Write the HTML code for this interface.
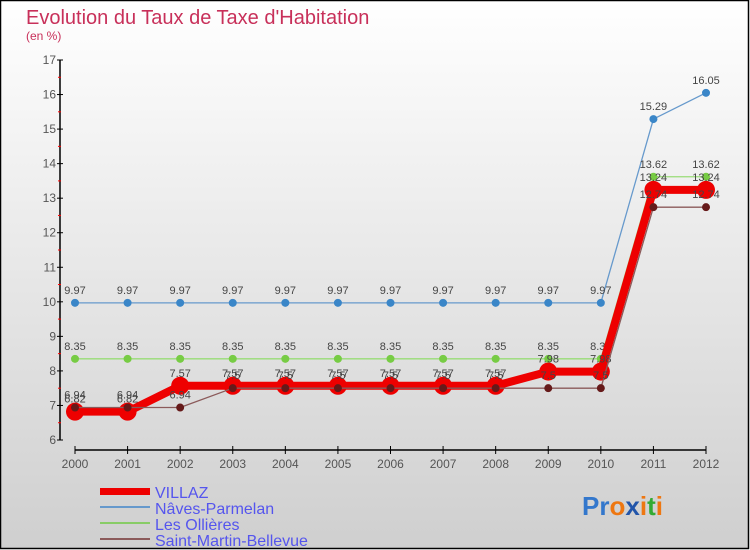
<!DOCTYPE html>
<html><head><meta charset="utf-8"><style>
body{margin:0}
svg{display:block;font-family:"Liberation Sans",sans-serif}
</style></head><body>
<svg id="c" width="750" height="550" viewBox="0 0 750 550">
<defs><linearGradient id="bg" x1="0" y1="0" x2="0" y2="1"><stop offset="0" stop-color="#ffffff"/><stop offset="1" stop-color="#cfcfcf"/></linearGradient></defs>
<rect x="0.5" y="0.5" width="748" height="548" fill="url(#bg)" stroke="#000" stroke-width="1.5"/>
<text x="26" y="24" font-size="20" fill="#c8305a">Evolution du Taux de Taxe d'Habitation</text>
<text x="26" y="40" font-size="12" fill="#c8305a">(en %)</text>
<g id="axes"></g>
<g id="series"></g>
<g id="legend">
<rect x="100" y="488" width="50" height="7" fill="#ee0000"/>
<text x="155" y="498" font-size="16" fill="#5555ee">VILLAZ</text>
<rect x="100" y="506" width="50" height="2" fill="#6699cc"/>
<text x="155" y="514" font-size="16" fill="#5555ee">Nâves-Parmelan</text>
<rect x="100" y="522" width="50" height="2" fill="#88cc66"/>
<text x="155" y="530" font-size="16" fill="#5555ee">Les Ollières</text>
<rect x="100" y="538" width="50" height="2" fill="#8b5a5a"/>
<text x="155" y="546" font-size="16" fill="#5555ee">Saint-Martin-Bellevue</text>
</g>
<text x="582" y="515" font-size="26" font-weight="bold"><tspan fill="#3377cc">Pr</tspan><tspan fill="#ee7711">o</tspan><tspan fill="#2255aa">x</tspan><tspan fill="#ee7711">i</tspan><tspan fill="#33aa33">t</tspan><tspan fill="#ee7711">i</tspan></text>
</svg>
<script>
const years=[2000,2001,2002,2003,2004,2005,2006,2007,2008,2009,2010,2011,2012];
const villaz=[6.82,6.82,7.57,7.57,7.57,7.57,7.57,7.57,7.57,7.98,7.98,13.24,13.24];
const naves=[9.97,9.97,9.97,9.97,9.97,9.97,9.97,9.97,9.97,9.97,9.97,15.29,16.05];
const ollieres=[8.35,8.35,8.35,8.35,8.35,8.35,8.35,8.35,8.35,8.35,8.35,13.62,13.62];
const stmartin=[6.94,6.94,6.94,7.5,7.5,7.5,7.5,7.5,7.5,7.5,7.5,12.74,12.74];
const yTicks=[6,7,8,9,10,11,12,13,14,15,16,17];
const NS="http://www.w3.org/2000/svg";
const x=i=>75+i*(706-75)/(years.length-1);
const y=v=>440-(v-6)*(380/11);
function mk(t,a,p){const e=document.createElementNS(NS,t);for(const k in a)e.setAttribute(k,a[k]);p.appendChild(e);return e;}
const ax=document.getElementById('axes');
let l=mk('line',{x1:60,y1:y(17),x2:60,y2:y(6),stroke:'#000','stroke-width':1.5},ax);


yTicks.forEach(t=>{
 mk('line',{x1:57,x2:63,y1:y(t),y2:y(t),stroke:'#000'},ax);
 if(t<17) mk('line',{x1:58,x2:61,y1:y(t+0.5),y2:y(t+0.5),stroke:'#f00'},ax);
 const tx=mk('text',{x:56,y:y(t)+4,'font-size':12,fill:'#555','text-anchor':'end'},ax);tx.textContent=t;
 
 
});
l=mk('line',{x1:x(0),y1:450,x2:x(12),y2:450,stroke:'#000','stroke-width':1.5},ax);


years.forEach((yr,i)=>{
 mk('line',{x1:x(i),x2:x(i),y1:446,y2:454,stroke:'#000'},ax);
 const tx=mk('text',{x:x(i),y:468,'font-size':12,fill:'#555','text-anchor':'middle'},ax);tx.textContent=yr;
 
 
});
const sg=document.getElementById('series');
function series(data,color,w,r,name,dot){
 const g=mk('g',{},sg);
 
 
 mk('polyline',{points:data.map((v,i)=>x(i)+','+y(v)).join(' '),fill:'none',stroke:color,'stroke-width':w,'stroke-linejoin':'round'},g);
 data.forEach((v,i)=>{
  const c=mk('circle',{cx:x(i),cy:y(v),r:r,fill:dot},g);
  
  
  const t=mk('text',{x:x(i),y:y(v)-9,'font-size':11,fill:'#444','text-anchor':'middle'},g);
  t.textContent=String(v);
 });
}
series(naves,'#6699cc',1.3,4,'series-naves-parmelan','#3a86c8');
series(ollieres,'#99dd77',1.3,4,'series-les-ollieres','#77cc44');
series(villaz,'#ee0000',8,9,'series-villaz','#ee0000');
series(stmartin,'#8b5a5a',1.3,4,'series-saint-martin-bellevue','#661a1a');
</script>
</body></html>
